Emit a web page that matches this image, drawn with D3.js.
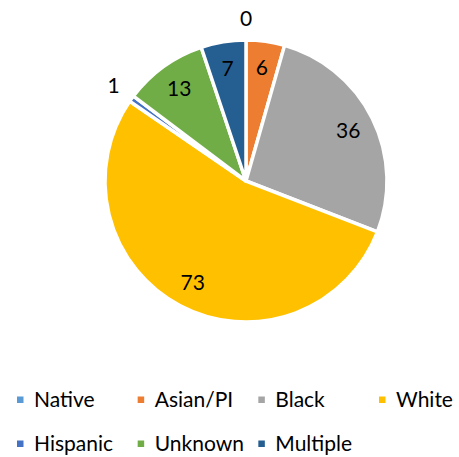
<!DOCTYPE html>
<html>
<head>
<meta charset="utf-8">
<script src="https://cdn.jsdelivr.net/npm/d3@7"></script>
<style>
  html, body { margin: 0; padding: 0; background: #fff; }
  svg { display: block; }
  text { font-family: Lato, "Open Sans", sans-serif; fill: #000; }
</style>
</head>
<body>
<svg id="chart" width="459" height="457"></svg>
<script>
// Categories and counts, in clockwise order starting at 12 o'clock
const categories = ["Native", "Asian/PI", "Black", "White", "Hispanic", "Unknown", "Multiple"];
const counts = [0, 6, 36, 73, 1, 13, 7];
const colors = ["#5B9BD5", "#ED7D31", "#A5A5A5", "#FFC000", "#4472C4", "#70AD47", "#255E91"];

const W = 459, H = 457;
const cx = 246, cy = 181, R = 141;
const fontSize = 21;

const svg = d3.select("#chart");

const rows = categories.map((c, i) => ({ name: c, value: counts[i], color: colors[i] }));

const pie = d3.pie().sort(null).value(d => d.value);
const arcs = pie(rows);

const arc = d3.arc().innerRadius(0).outerRadius(R);
const insideArc = d3.arc().innerRadius(R * 0.81).outerRadius(R * 0.81);
const outsideArc = d3.arc().innerRadius(R + 22).outerRadius(R + 22);

const g = svg.append("g").attr("transform", `translate(${cx},${cy})`);

g.selectAll("path.slice")
  .data(arcs)
  .join("path")
  .attr("class", "slice")
  .attr("d", arc)
  .attr("fill", d => d.data.color)
  .attr("stroke", "#fff")
  .attr("stroke-width", 3.5)
  .attr("stroke-linejoin", "round");

// Value labels: small slices get their label just outside the rim
g.selectAll("text.val")
  .data(arcs)
  .join("text")
  .attr("class", "val")
  .attr("transform", d => {
    const p = (d.data.value < 2 ? outsideArc : insideArc).centroid(d);
    return `translate(${p[0]},${p[1]})`;
  })
  .attr("text-anchor", "middle")
  .attr("dy", "0.36em")
  .style("font-size", fontSize + "px")
  .text(d => d.data.value);

// Legend: two rows, four columns
const colX = d3.scalePoint().domain(d3.range(4)).range([17, 379]);
const rowY = d3.scalePoint().domain([0, 1]).range([406.5, 450.5]);

const leg = svg.append("g")
  .selectAll("g")
  .data(rows)
  .join("g")
  .attr("transform", (d, i) => `translate(${colX(i % 4)},${rowY(Math.floor(i / 4))})`);

leg.append("rect")
  .attr("x", 0)
  .attr("y", -10)
  .attr("width", 6.5)
  .attr("height", 6.5)
  .attr("fill", d => d.color);

leg.append("text")
  .attr("x", 17)
  .attr("y", 0)
  .style("font-size", fontSize + "px")
  .text(d => d.name);
</script>
</body>
</html>
